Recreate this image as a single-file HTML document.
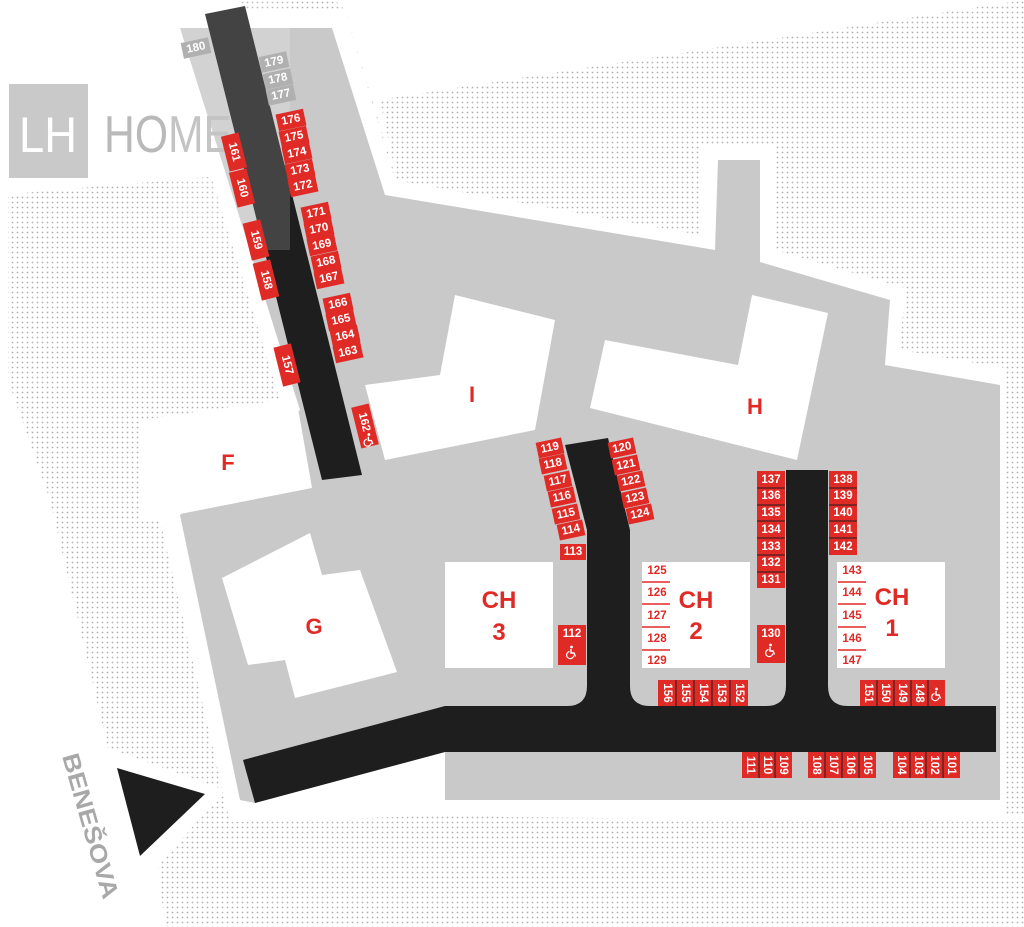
<!DOCTYPE html>
<html><head><meta charset="utf-8"><style>
html,body{margin:0;padding:0;background:#fff;width:1024px;height:927px;overflow:hidden}
svg{display:block}
.n{font-family:"Liberation Sans",sans-serif;font-weight:bold;font-size:11.5px;fill:#fff;text-anchor:middle;dominant-baseline:central}
.r{fill:#e02a26}
.b{font-family:"Liberation Sans",sans-serif;font-weight:bold;fill:#e02a26;text-anchor:middle}
.w{font-family:"Liberation Sans",sans-serif;font-weight:bold;font-size:11.5px;fill:#e02a26;text-anchor:middle;dominant-baseline:central}
</style></head><body>
<svg width="1024" height="927" viewBox="0 0 1024 927" xmlns="http://www.w3.org/2000/svg">
<defs>
<pattern id="dots" width="5" height="5" patternUnits="userSpaceOnUse"><circle cx="2.5" cy="2.5" r="0.9" fill="#b0b0b0"/></pattern>
<g id="wc"><circle cx="0.5" cy="-5" r="1.4" fill="#fff"/><path d="M0,-3 V1 H3 L4.5,4.5" stroke="#fff" stroke-width="1.4" fill="none"/><path d="M-1.5,-0.5 A3.6,3.6 0 1 0 2.8,3.6" stroke="#fff" stroke-width="1.2" fill="none"/></g>
</defs>
<rect width="1024" height="927" fill="url(#dots)"/>
<polygon points="0,0 375,0 378,100 1024,0 1024,0 0,0" fill="#fff"/>
<polygon points="335,0 380,0 380,100 398,185 345,10" fill="#fff"/>
<polygon points="0,0 240,0 230,175 0,195" fill="#fff"/>
<polygon points="0,195 8,195 8,380 50,500 108,748 225,790 158,866 165,927 0,927" fill="#fff"/>
<polygon points="160,10 345,10 395,180 700,235 700,145 775,145 775,250 905,288 900,350 1005,368 1005,815 460,815 240,822 230,822 160,520 140,520 140,420 280,400" fill="#fff"/>
<polygon points="225,790 300,800 1024,815 1024,822 500,817 233,800" fill="#fff"/>
<polygon points="180,28 332,28 385,195 715,250 718,160 760,160 760,262 890,300 885,365 1000,385 1000,800 445,800 445,752 255,803 240,800 180,515 300,410" fill="#c9c9c9"/>
<rect x="9" y="84" width="79" height="94" fill="#c9c9c9"/>
<text x="48" y="152" font-family="Liberation Sans,sans-serif" font-size="50" fill="#fff" text-anchor="middle" textLength="58" lengthAdjust="spacingAndGlyphs">LH</text>
<text x="104" y="152" font-family="Liberation Sans,sans-serif" font-size="52" fill="#b9b9b9" textLength="128" lengthAdjust="spacingAndGlyphs">HOME</text>
<polygon points="150,432 298,408 312,488 175,515" fill="#fff"/>
<text class="b" x="228" y="470" font-size="22">F</text>
<polygon points="365,385 440,375 455,295 555,320 535,430 385,460" fill="#fff"/>
<text class="b" x="472" y="402" font-size="22">I</text>
<polygon points="590,408 605,340 738,365 752,295 828,313 797,460" fill="#fff"/>
<text class="b" x="755" y="414" font-size="22">H</text>
<polygon points="222,578 310,533 322,575 360,570 397,672 295,698 285,660 248,665" fill="#fff"/>
<text class="b" x="314" y="634" font-size="22">G</text>
<rect x="445" y="562" width="108" height="106" fill="#fff"/>
<text class="b" x="499" y="608" font-size="24">CH</text><text class="b" x="499" y="640" font-size="24">3</text>
<rect x="642" y="562" width="108" height="106" fill="#fff"/>
<text class="b" x="696" y="608" font-size="24">CH</text><text class="b" x="696" y="639" font-size="24">2</text>
<rect x="837" y="562" width="108" height="106" fill="#fff"/>
<text class="b" x="892" y="605" font-size="24">CH</text><text class="b" x="892" y="636" font-size="24">1</text>
<g stroke="#e02a26" stroke-width="1.5">
<line x1="642" y1="582" x2="670" y2="582"/><line x1="642" y1="604" x2="670" y2="604"/><line x1="642" y1="627" x2="670" y2="627"/><line x1="642" y1="650" x2="670" y2="650"/>
<line x1="838" y1="582" x2="866" y2="582"/><line x1="838" y1="604" x2="866" y2="604"/><line x1="838" y1="627" x2="866" y2="627"/><line x1="838" y1="650" x2="866" y2="650"/>
</g>
<text class="w" x="657" y="571">125</text><text class="w" x="657" y="593">126</text><text class="w" x="657" y="616">127</text><text class="w" x="657" y="639">128</text><text class="w" x="657" y="661">129</text>
<text class="w" x="852" y="571">143</text><text class="w" x="852" y="593">144</text><text class="w" x="852" y="616">145</text><text class="w" x="852" y="639">146</text><text class="w" x="852" y="661">147</text>
<path d="M445,706 H996 V752 H445 L255,803 L243,760 L445,706 Z" fill="#1e1e1e"/>
<path d="M565,445 L608,438 L630,530 V686 Q630,706 650,706 H567 Q587,706 587,686 V530 Z" fill="#1e1e1e"/>
<path d="M786,470 H828 V686 Q828,706 848,706 H766 Q786,706 786,686 Z" fill="#1e1e1e"/>
<polygon points="205,14 245,6 362,475 322,480" fill="#1e1e1e"/>
<rect x="170" y="0" width="120" height="250" fill="#fff" opacity="0.17"/>
<g>
<g transform="translate(196,48) rotate(-12)"><rect x="-14" y="-8" width="28" height="16" fill="#b0b0b0"/><text class="n">180</text></g>
<g transform="translate(274,62) rotate(-12)"><rect x="-14" y="-8" width="28" height="16" fill="#b0b0b0"/><text class="n">179</text></g>
<g transform="translate(278,79) rotate(-12)"><rect x="-14" y="-8" width="28" height="16" fill="#b0b0b0"/><text class="n">178</text></g>
<g transform="translate(281,95) rotate(-12)"><rect x="-14" y="-8" width="28" height="16" fill="#b0b0b0"/><text class="n">177</text></g>
<g transform="translate(291,120) rotate(-12)"><rect class="r" x="-14" y="-8.5" width="28" height="17"/><text class="n">176</text></g>
<g transform="translate(294,137) rotate(-12)"><rect class="r" x="-14" y="-8.5" width="28" height="17"/><text class="n">175</text></g>
<g transform="translate(297,153) rotate(-12)"><rect class="r" x="-14" y="-8.5" width="28" height="17"/><text class="n">174</text></g>
<g transform="translate(300,170) rotate(-12)"><rect class="r" x="-14" y="-8.5" width="28" height="17"/><text class="n">173</text></g>
<g transform="translate(303,186) rotate(-12)"><rect class="r" x="-14" y="-8.5" width="28" height="17"/><text class="n">172</text></g>
<g transform="translate(316,213) rotate(-12)"><rect class="r" x="-14" y="-8.5" width="28" height="17"/><text class="n">171</text></g>
<g transform="translate(319,229) rotate(-12)"><rect class="r" x="-14" y="-8.5" width="28" height="17"/><text class="n">170</text></g>
<g transform="translate(322,245) rotate(-12)"><rect class="r" x="-14" y="-8.5" width="28" height="17"/><text class="n">169</text></g>
<g transform="translate(326,262) rotate(-12)"><rect class="r" x="-14" y="-8.5" width="28" height="17"/><text class="n">168</text></g>
<g transform="translate(329,278) rotate(-12)"><rect class="r" x="-14" y="-8.5" width="28" height="17"/><text class="n">167</text></g>
<g transform="translate(338,304) rotate(-12)"><rect class="r" x="-14" y="-8.5" width="28" height="17"/><text class="n">166</text></g>
<g transform="translate(341,320) rotate(-12)"><rect class="r" x="-14" y="-8.5" width="28" height="17"/><text class="n">165</text></g>
<g transform="translate(345,336) rotate(-12)"><rect class="r" x="-14" y="-8.5" width="28" height="17"/><text class="n">164</text></g>
<g transform="translate(348,352) rotate(-12)"><rect class="r" x="-14" y="-8.5" width="28" height="17"/><text class="n">163</text></g>
<g transform="translate(234,152) rotate(76)"><rect class="r" x="-18" y="-9" width="36" height="18"/><text class="n">161</text></g>
<g transform="translate(242,188) rotate(76)"><rect class="r" x="-18" y="-9" width="36" height="18"/><text class="n">160</text></g>
<g transform="translate(256,240) rotate(76)"><rect class="r" x="-19" y="-9" width="38" height="18"/><text class="n">159</text></g>
<g transform="translate(266,280) rotate(76)"><rect class="r" x="-19" y="-9" width="38" height="18"/><text class="n">158</text></g>
<g transform="translate(287,365) rotate(76)"><rect class="r" x="-20" y="-9" width="40" height="18"/><text class="n">157</text></g>
<g transform="translate(365,426) rotate(76)"><rect class="r" x="-21" y="-9" width="42" height="18"/><text class="n" x="-4">162</text><use href="#wc" transform="translate(14,0) rotate(-76)"/></g>
<g transform="translate(550,448) rotate(-12)"><rect class="r" x="-13" y="-8" width="26" height="16"/><text class="n">119</text></g>
<g transform="translate(553,464) rotate(-12)"><rect class="r" x="-13" y="-8" width="26" height="16"/><text class="n">118</text></g>
<g transform="translate(558,481) rotate(-12)"><rect class="r" x="-13" y="-8" width="26" height="16"/><text class="n">117</text></g>
<g transform="translate(562,497) rotate(-12)"><rect class="r" x="-13" y="-8" width="26" height="16"/><text class="n">116</text></g>
<g transform="translate(566,514) rotate(-12)"><rect class="r" x="-13" y="-8" width="26" height="16"/><text class="n">115</text></g>
<g transform="translate(571,530) rotate(-12)"><rect class="r" x="-13" y="-8" width="26" height="16"/><text class="n">114</text></g>
<g transform="translate(573,552)"><rect class="r" x="-13" y="-8" width="26" height="16"/><text class="n">113</text></g>
<g transform="translate(622,448) rotate(-12)"><rect class="r" x="-13" y="-8" width="26" height="16"/><text class="n">120</text></g>
<g transform="translate(626,465) rotate(-12)"><rect class="r" x="-13" y="-8" width="26" height="16"/><text class="n">121</text></g>
<g transform="translate(631,481) rotate(-12)"><rect class="r" x="-13" y="-8" width="26" height="16"/><text class="n">122</text></g>
<g transform="translate(635,498) rotate(-12)"><rect class="r" x="-13" y="-8" width="26" height="16"/><text class="n">123</text></g>
<g transform="translate(640,514) rotate(-12)"><rect class="r" x="-13" y="-8" width="26" height="16"/><text class="n">124</text></g>
</g>
<rect class="r" x="558" y="625" width="28" height="40"/><text class="n" x="572" y="634">112</text><use href="#wc" transform="translate(571,652)"/>
<rect class="r" x="757" y="625" width="28" height="38"/><text class="n" x="771" y="634">130</text><use href="#wc" transform="translate(770,650)"/>
<g>
<rect class="r" x="757" y="471" width="28" height="117"/>
<rect class="r" x="829" y="471" width="28" height="84"/>
<g stroke="#1e1e1e" stroke-width="1">
<line x1="757" y1="488" x2="785" y2="488"/><line x1="757" y1="505" x2="785" y2="505"/><line x1="757" y1="521" x2="785" y2="521"/><line x1="757" y1="538" x2="785" y2="538"/><line x1="757" y1="555" x2="785" y2="555"/><line x1="757" y1="572" x2="785" y2="572"/>
<line x1="829" y1="488" x2="857" y2="488"/><line x1="829" y1="505" x2="857" y2="505"/><line x1="829" y1="521" x2="857" y2="521"/><line x1="829" y1="538" x2="857" y2="538"/>
</g>
<text class="n" x="771" y="480">137</text><text class="n" x="771" y="496">136</text><text class="n" x="771" y="513">135</text><text class="n" x="771" y="530">134</text><text class="n" x="771" y="547">133</text><text class="n" x="771" y="563">132</text><text class="n" x="771" y="580">131</text>
<text class="n" x="843" y="480">138</text><text class="n" x="843" y="496">139</text><text class="n" x="843" y="513">140</text><text class="n" x="843" y="530">141</text><text class="n" x="843" y="547">142</text>
</g>
<g>
<rect class="r" x="658" y="680" width="90" height="26"/>
<rect class="r" x="860" y="680" width="85" height="26"/>
<rect class="r" x="742" y="752" width="50" height="26"/>
<rect class="r" x="808" y="752" width="68" height="26"/>
<rect class="r" x="893" y="752" width="67" height="26"/>
<g stroke="#1e1e1e" stroke-width="1">
<line x1="676" y1="680" x2="676" y2="706"/><line x1="694" y1="680" x2="694" y2="706"/><line x1="712" y1="680" x2="712" y2="706"/><line x1="730" y1="680" x2="730" y2="706"/>
<line x1="877" y1="680" x2="877" y2="706"/><line x1="894" y1="680" x2="894" y2="706"/><line x1="911" y1="680" x2="911" y2="706"/><line x1="928" y1="680" x2="928" y2="706"/>
<line x1="759" y1="752" x2="759" y2="778"/><line x1="775" y1="752" x2="775" y2="778"/>
<line x1="825" y1="752" x2="825" y2="778"/><line x1="842" y1="752" x2="842" y2="778"/><line x1="859" y1="752" x2="859" y2="778"/>
<line x1="910" y1="752" x2="910" y2="778"/><line x1="926" y1="752" x2="926" y2="778"/><line x1="943" y1="752" x2="943" y2="778"/>
</g>
<text class="n" transform="translate(667,693) rotate(90)">156</text>
<text class="n" transform="translate(685,693) rotate(90)">155</text>
<text class="n" transform="translate(703,693) rotate(90)">154</text>
<text class="n" transform="translate(721,693) rotate(90)">153</text>
<text class="n" transform="translate(739,693) rotate(90)">152</text>
<text class="n" transform="translate(868,693) rotate(90)">151</text>
<text class="n" transform="translate(885,693) rotate(90)">150</text>
<text class="n" transform="translate(902,693) rotate(90)">149</text>
<text class="n" transform="translate(919,693) rotate(90)">148</text>
<use href="#wc" transform="translate(936,694)"/>
<text class="n" transform="translate(750,765) rotate(90)">111</text>
<text class="n" transform="translate(767,765) rotate(90)">110</text>
<text class="n" transform="translate(783,765) rotate(90)">109</text>
<text class="n" transform="translate(816,765) rotate(90)">108</text>
<text class="n" transform="translate(833,765) rotate(90)">107</text>
<text class="n" transform="translate(850,765) rotate(90)">106</text>
<text class="n" transform="translate(867,765) rotate(90)">105</text>
<text class="n" transform="translate(901,765) rotate(90)">104</text>
<text class="n" transform="translate(918,765) rotate(90)">103</text>
<text class="n" transform="translate(934,765) rotate(90)">102</text>
<text class="n" transform="translate(951,765) rotate(90)">101</text>
</g>
<polygon points="117,768 205,794 140,856" fill="#1e1e1e"/>
<text transform="translate(62,756) rotate(74)" font-family="Liberation Sans,sans-serif" font-weight="bold" font-size="24" fill="#a8a8a8" textLength="150" lengthAdjust="spacingAndGlyphs">BENEŠOVA</text>
</svg>
</body></html>
